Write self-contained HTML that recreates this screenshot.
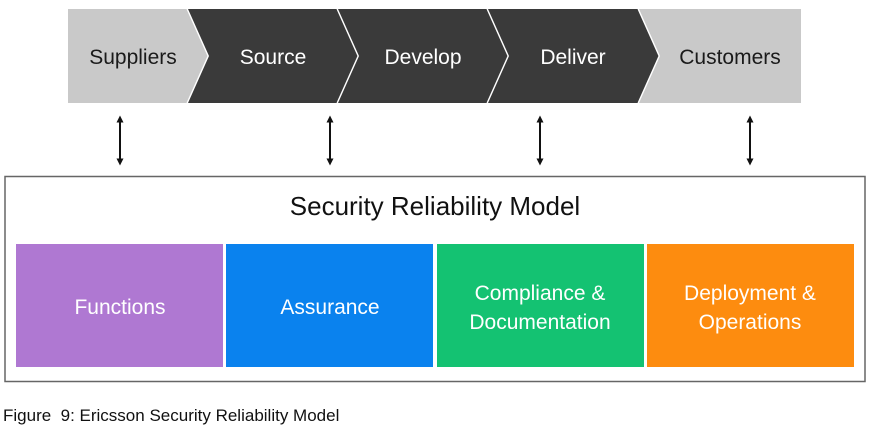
<!DOCTYPE html>
<html><head><style>html,body{margin:0;padding:0;background:#fff;width:873px;height:436px;overflow:hidden}</style></head>
<body>
<svg width="873" height="436" viewBox="0 0 873 436" xmlns="http://www.w3.org/2000/svg" font-family="Liberation Sans, sans-serif">
<defs>
<marker id="a" markerWidth="7" markerHeight="7" refX="3.5" refY="3.5" orient="auto-start-reverse" markerUnits="userSpaceOnUse"><path d="M0,0 L7,3.5 L0,7 z" fill="#111"/></marker>
</defs>
<polygon points="68,9 187,9 208,56 187,103 68,103" fill="#c9c9c9"/>
<polygon points="188,9 337,9 358,56 337,103 188,103 209,56" fill="#3a3a3a"/>
<polygon points="338,9 487,9 508,56 487,103 338,103 359,56" fill="#3a3a3a"/>
<polygon points="488,9 638,9 659,56 638,103 488,103 509,56" fill="#3a3a3a"/>
<polygon points="639,9 801,9 801,103 639,103 660,56" fill="#c9c9c9"/>
<g stroke="#fff" stroke-width="1" fill="none">
<polyline points="187,9 208,56 187,103"/>
<polyline points="337,9 358,56 337,103"/>
<polyline points="487,9 508,56 487,103"/>
<polyline points="638,9 659,56 638,103"/>
</g>
<g font-size="21" text-anchor="middle">
<text x="133" y="64" fill="#1a1a1a">Suppliers</text>
<text x="273" y="64" fill="#fff">Source</text>
<text x="423" y="64" fill="#fff">Develop</text>
<text x="573" y="64" fill="#fff">Deliver</text>
<text x="730" y="64" fill="#1a1a1a">Customers</text>
</g>
<g stroke="#111" stroke-width="2">
<line x1="120" y1="119" x2="120" y2="162" marker-start="url(#a)" marker-end="url(#a)"/>
<line x1="330" y1="119" x2="330" y2="162" marker-start="url(#a)" marker-end="url(#a)"/>
<line x1="540" y1="119" x2="540" y2="162" marker-start="url(#a)" marker-end="url(#a)"/>
<line x1="750" y1="119" x2="750" y2="162" marker-start="url(#a)" marker-end="url(#a)"/>
</g>
<rect x="5" y="176.5" width="860" height="205" fill="#fff" stroke="#666" stroke-width="1.5"/>
<text x="435" y="215" font-size="26" text-anchor="middle" fill="#111">Security Reliability Model</text>
<rect x="16" y="244" width="207" height="123" fill="#af78d2"/>
<rect x="226" y="244" width="207" height="123" fill="#0a82ee"/>
<rect x="437" y="244" width="207" height="123" fill="#14c272"/>
<rect x="647" y="244" width="207" height="123" fill="#fd8c0f"/>
<g font-size="21" text-anchor="middle" fill="#fff">
<text x="120" y="314">Functions</text>
<text x="330" y="314">Assurance</text>
<text x="540" y="300">Compliance &amp;</text>
<text x="540" y="329">Documentation</text>
<text x="750" y="300">Deployment &amp;</text>
<text x="750" y="329">Operations</text>
</g>
<text x="3" y="421" font-size="17" fill="#111" xml:space="preserve">Figure  9: Ericsson Security Reliability Model</text>
</svg>
</body></html>
